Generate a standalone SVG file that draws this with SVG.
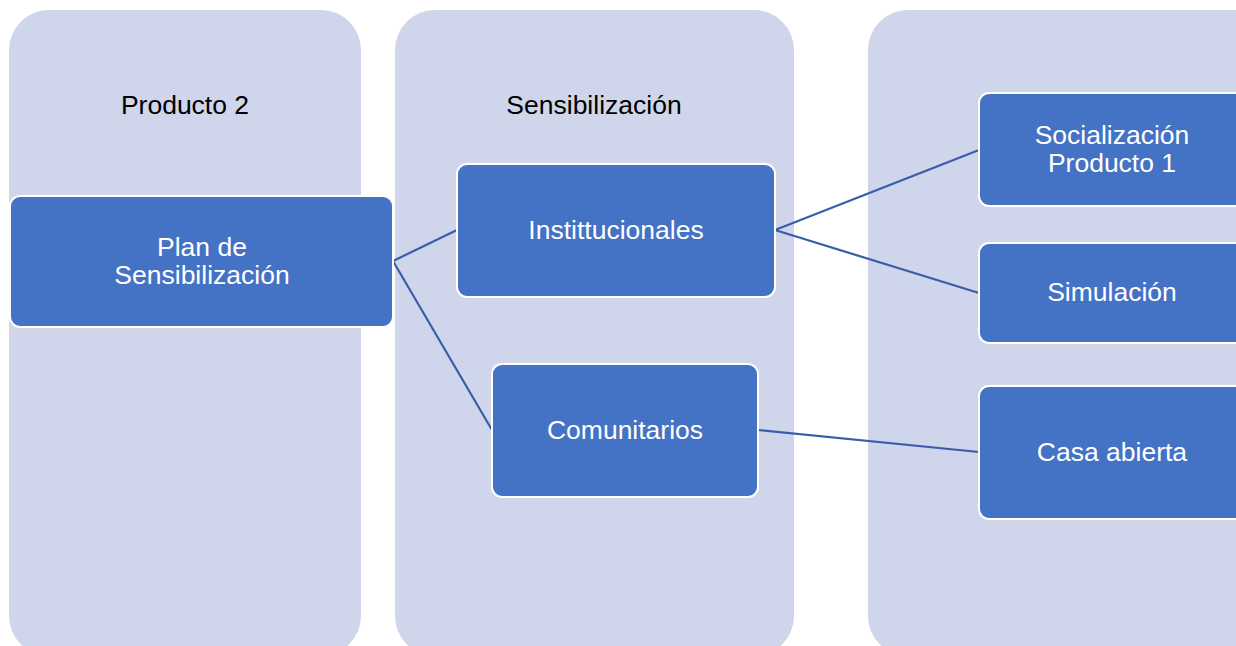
<svg xmlns="http://www.w3.org/2000/svg" width="1236" height="646" viewBox="0 0 1236 646">
<style>
.col{fill:#CFD5EA;}
.node{fill:#4472C4;stroke:#FFFFFF;stroke-width:2;}
.lbl{font-family:"Liberation Sans",Arial,sans-serif;font-size:26.5px;fill:#000000;text-anchor:middle;}
.ntx{font-family:"Liberation Sans",Arial,sans-serif;font-size:26.5px;fill:#FFFFFF;text-anchor:middle;}
.conn{stroke:#3A5DA9;stroke-width:2.2;fill:none;}
</style>
<rect width="1236" height="646" fill="#FFFFFF"/>
<g id="col1"><rect class="col" x="9" y="10" width="352" height="646" rx="40"/><text class="lbl" x="185" y="114">Producto 2</text></g>
<g id="col2"><rect class="col" x="395" y="10" width="399" height="646" rx="40"/><text class="lbl" x="594" y="114">Sensibilización</text></g>
<g id="col3"><rect class="col" x="868" y="10" width="420" height="646" rx="40"/></g>
<g id="connectors">
<line class="conn" x1="393" y1="261" x2="457" y2="230"/>
<line class="conn" x1="393" y1="261" x2="492" y2="430"/>
<line class="conn" x1="775" y1="230" x2="979" y2="150"/>
<line class="conn" x1="775" y1="230" x2="979" y2="293"/>
<line class="conn" x1="758" y1="430" x2="979" y2="452"/>
</g>
<g id="plan"><rect class="node" x="10" y="196" width="383" height="131" rx="10"/><text class="ntx" x="202" y="256">Plan de</text><text class="ntx" x="202" y="284">Sensibilización</text></g>
<g id="inst"><rect class="node" x="457" y="164" width="318" height="133" rx="10"/><text class="ntx" x="616" y="239">Instittucionales</text></g>
<g id="com"><rect class="node" x="492" y="364" width="266" height="133" rx="10"/><text class="ntx" x="625" y="439">Comunitarios</text></g>
<g id="soc"><rect class="node" x="979" y="93" width="266" height="113" rx="10"/><text class="ntx" x="1112" y="144">Socialización</text><text class="ntx" x="1112" y="172">Producto 1</text></g>
<g id="sim"><rect class="node" x="979" y="243" width="266" height="100" rx="10"/><text class="ntx" x="1112" y="301">Simulación</text></g>
<g id="casa"><rect class="node" x="979" y="386" width="266" height="133" rx="10"/><text class="ntx" x="1112" y="461">Casa abierta</text></g>
</svg>
